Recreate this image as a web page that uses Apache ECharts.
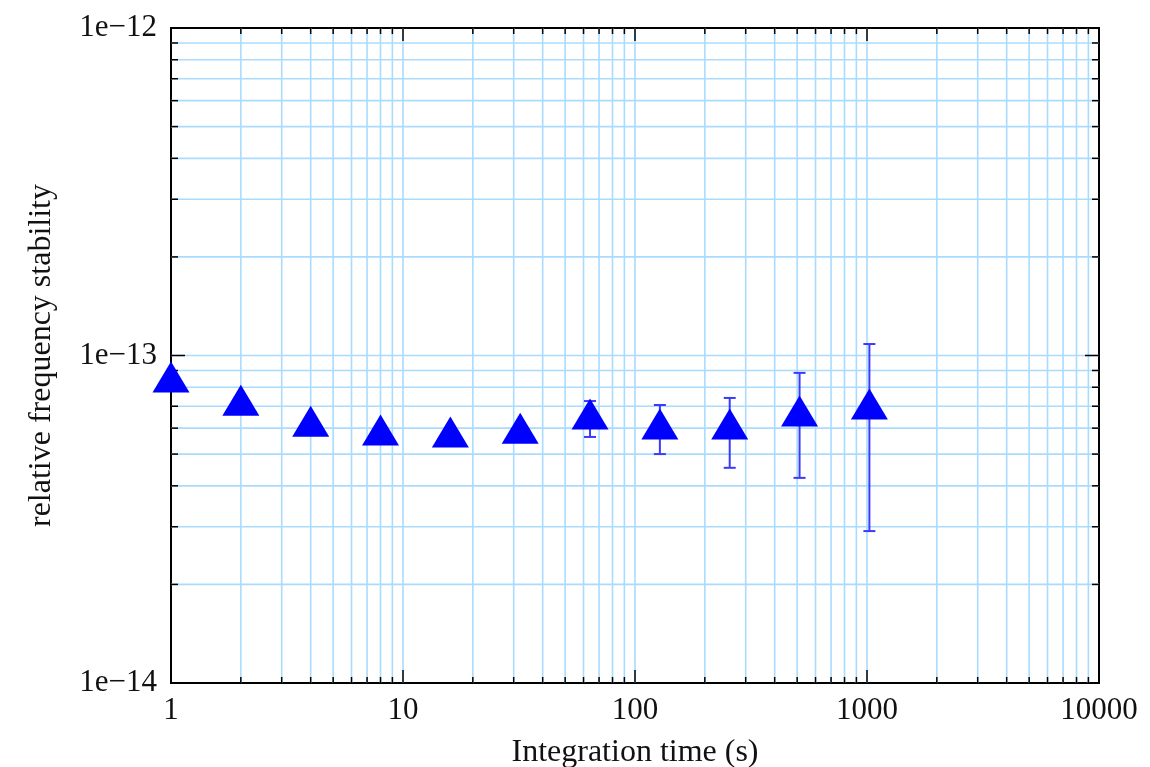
<!DOCTYPE html>
<html>
<head>
<meta charset="utf-8">
<script src="https://cdn.jsdelivr.net/npm/echarts@6/dist/echarts.min.js"></script>
<style>
  html, body { margin: 0; padding: 0; background: #fff; }
  #chart { width: 1150px; height: 767px; }
</style>
</head>
<body>
<div id="chart"></div>
<script>
// integration times (s) and Allan deviation
const tauValues = [1, 2, 4, 8, 16, 32, 64, 128, 256, 512, 1024]
const sigmaValues = [8.6e-14, 7.3e-14, 6.3e-14, 5.92e-14, 5.84e-14, 6.0e-14, 6.63e-14, 6.18e-14, 6.18e-14, 6.77e-14, 7.11e-14]
const errLow = [null, null, null, null, null, 5.8e-14, 5.64e-14, 5.0e-14, 4.54e-14, 4.23e-14, 2.91e-14]
const errHigh = [null, null, null, null, null, 6.15e-14, 7.26e-14, 7.06e-14, 7.42e-14, 8.85e-14, 1.084e-13]

// axes
const xMin = 1, xMax = 10000
const yMin = 1e-14, yMax = 1e-12
const xDecades = [1, 10, 100, 1000]
const yDecades = [1e-14, 1e-13]
const minorSteps = [2, 3, 4, 5, 6, 7, 8, 9]
const xTickLabels = { 0: '1', 1: '10', 2: '100', 3: '1000', 4: '10000' }
const yTickLabels = { '-14': '1e\u221214', '-13': '1e\u221213', '-12': '1e\u221212' }

const gridColor = '#a9dbff'
const fontFamily = "'Liberation Serif', 'DejaVu Serif', serif"

// build grid / tick positions from decades
const xLines = []
xDecades.forEach((d, i) => {
  if (i > 0) xLines.push([d, yMin, 1])
  minorSteps.forEach(m => xLines.push([m * d, yMin, 0]))
})
const yLines = []
yDecades.forEach((d, i) => {
  if (i > 0) yLines.push([xMin, d, 1])
  minorSteps.forEach(m => yLines.push([xMin, m * d, 0]))
})

const chart = echarts.init(document.getElementById('chart'))

const option = {
  animation: false,
  grid: {
    left: 171,
    right: 51,
    top: 28,
    bottom: 84,
    outerBoundsMode: 'none',
    containLabel: false,
    show: true,
    borderColor: '#000',
    borderWidth: 2,
    backgroundColor: '#fff'
  },
  xAxis: {
    type: 'log',
    logBase: 10,
    min: xMin,
    max: xMax,
    name: 'Integration time (s)',
    nameLocation: 'middle',
    nameGap: 54,
    nameTextStyle: { color: '#111', fontSize: 32, fontFamily: fontFamily },
    axisLine: { show: true, lineStyle: { color: '#000', width: 2 } },
    axisTick: { show: false },
    splitLine: { show: false },
    axisLabel: {
      color: '#111',
      fontSize: 31,
      fontFamily: fontFamily,
      margin: 12,
      formatter: v => xTickLabels[Math.round(Math.log10(v))] || ''
    }
  },
  yAxis: {
    type: 'log',
    logBase: 10,
    min: yMin,
    max: yMax,
    name: 'relative frequency stability',
    nameLocation: 'middle',
    nameGap: 113,
    nameTextStyle: { color: '#111', fontSize: 32, fontFamily: fontFamily },
    axisLine: { show: true, lineStyle: { color: '#000', width: 2 } },
    axisTick: { show: false },
    splitLine: { show: false },
    axisLabel: {
      color: '#111',
      fontSize: 31,
      fontFamily: fontFamily,
      margin: 14,
      formatter: v => yTickLabels[String(Math.round(Math.log10(v)))] || ''
    }
  },
  series: [
    {
      // vertical grid lines + ticks on top/bottom frame
      type: 'custom',
      silent: true,
      z: 1,
      encode: { x: 0, y: 1 },
      data: xLines,
      renderItem: (params, api) => {
        const v = api.value(0)
        const major = api.value(2) === 1
        const b = api.coord([v, yMin])
        const t = api.coord([v, yMax])
        const len = major ? 13 : 6
        return {
          type: 'group',
          children: [
            { type: 'line', shape: { x1: b[0], y1: b[1], x2: t[0], y2: t[1] }, style: { stroke: gridColor, lineWidth: 1.6 } },
            { type: 'line', z2: 5, shape: { x1: b[0], y1: b[1], x2: b[0], y2: b[1] - len }, style: { stroke: '#000', lineWidth: 1.5 } },
            { type: 'line', z2: 5, shape: { x1: t[0], y1: t[1], x2: t[0], y2: t[1] + len }, style: { stroke: '#000', lineWidth: 1.5 } }
          ]
        }
      }
    },
    {
      // horizontal grid lines + ticks on left/right frame
      type: 'custom',
      silent: true,
      z: 1,
      encode: { x: 0, y: 1 },
      data: yLines,
      renderItem: (params, api) => {
        const v = api.value(1)
        const major = api.value(2) === 1
        const l = api.coord([xMin, v])
        const r = api.coord([xMax, v])
        const len = major ? 14 : 7
        return {
          type: 'group',
          children: [
            { type: 'line', shape: { x1: l[0], y1: l[1], x2: r[0], y2: r[1] }, style: { stroke: gridColor, lineWidth: 1.6 } },
            { type: 'line', z2: 5, shape: { x1: l[0], y1: l[1], x2: l[0] + len, y2: l[1] }, style: { stroke: '#000', lineWidth: 1.5 } },
            { type: 'line', z2: 5, shape: { x1: r[0], y1: r[1], x2: r[0] - len, y2: r[1] }, style: { stroke: '#000', lineWidth: 1.5 } }
          ]
        }
      }
    },
    {
      // error bars
      type: 'custom',
      silent: true,
      z: 3,
      encode: { x: 0, y: 1 },
      data: tauValues.map((t, i) => [t, errLow[i], errHigh[i]]).filter(d => d[1] != null),
      renderItem: (params, api) => {
        const lo = api.coord([api.value(0), api.value(1)])
        const hi = api.coord([api.value(0), api.value(2)])
        const cap = 6
        const style = { stroke: '#3a3aff', lineWidth: 2 }
        return {
          type: 'group',
          children: [
            { type: 'line', shape: { x1: lo[0], y1: lo[1], x2: hi[0], y2: hi[1] }, style: style },
            { type: 'line', shape: { x1: lo[0] - cap, y1: lo[1], x2: lo[0] + cap, y2: lo[1] }, style: style },
            { type: 'line', shape: { x1: hi[0] - cap, y1: hi[1], x2: hi[0] + cap, y2: hi[1] }, style: style }
          ]
        }
      }
    },
    {
      name: 'stability',
      type: 'scatter',
      z: 4,
      symbol: 'triangle',
      symbolSize: [37, 31],
      itemStyle: { color: '#0000ff', opacity: 1 },
      data: tauValues.map((t, i) => [t, sigmaValues[i]])
    }
  ]
}

chart.setOption(option)
</script>
</body>
</html>
